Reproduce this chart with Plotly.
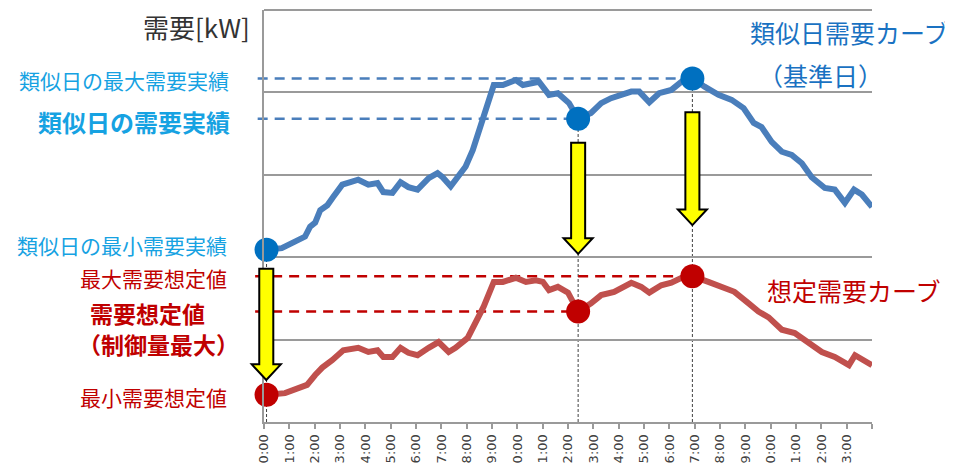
import plotly.graph_objects as go

# ---- data (hours, kW-like units; gridlines every 100) ----
blue_hours = [0, 0.1, 0.70, 0.95, 1.35, 1.62, 1.82, 2.02, 2.22, 2.50,
              2.73, 3.09, 3.41, 3.72, 4.12, 4.48, 4.71, 5.07, 5.39, 5.70,
              6.06, 6.26, 6.50, 6.85, 7.05, 7.37, 7.64, 7.96, 8.24, 8.63,
              9.07, 9.43, 9.94, 10.22, 10.61, 10.85, 11.25, 11.60, 12.04, 12.32,
              12.40, 12.91, 13.31, 13.70, 14.10, 14.50, 14.81, 15.21, 15.60, 16.08,
              16.48, 16.91, 17.39, 17.94, 18.46, 18.93, 19.33, 19.64, 20.04, 20.44,
              20.83, 21.23, 21.62, 22.14, 22.53, 22.93, 23.29, 23.60, 24.00]
blue_kw = [215, 209, 211, 215, 221, 225, 237, 242, 257, 263,
           273, 288, 291, 294, 288, 290, 279, 278, 291, 285,
           282, 288, 296, 302, 297, 286, 296, 310, 330, 367,
           409, 409, 415, 409, 411, 413, 397, 399, 387, 373,
           368, 375, 387, 393, 397, 401, 401, 388, 399, 403,
           413, 417, 407, 397, 391, 381, 363, 358, 340, 328,
           324, 314, 297, 284, 282, 266, 282, 276, 261]

red_hours = [0, 0.1, 0.83, 1.35, 1.70, 2.02, 2.30, 2.69, 3.13, 3.72,
             4.12, 4.48, 4.71, 5.07, 5.39, 5.70, 6.06, 6.50, 6.89, 7.29,
             7.56, 8.04, 8.36, 8.67, 9.07, 9.43, 9.94, 10.34, 10.73, 11.01,
             11.25, 11.60, 12.00, 12.20, 12.40, 12.91, 13.31, 13.82, 14.50, 14.89,
             15.21, 15.68, 16.08, 16.48, 16.91, 17.54, 18.06, 18.57, 19.13, 19.52,
             19.92, 20.44, 20.95, 21.50, 22.02, 22.53, 23.09, 23.33, 23.72, 24.00]
red_kw = [38, 33, 35, 41, 45, 57, 66, 75, 87, 90,
          85, 87, 79, 79, 90, 84, 81, 90, 97, 85,
          90, 102, 120, 140, 170, 170, 175, 170, 172, 170,
          160, 164, 157, 144, 134, 144, 154, 158, 169, 164,
          157, 166, 169, 175, 177, 170, 164, 158, 144, 134,
          127, 112, 108, 97, 85, 79, 69, 81, 75, 69]

key_hours = [0.1, 12.40, 16.91]          # min / selected / max of similar day
arrow_tops = [186, 339, 376]
arrow_tips = [51, 204, 239]

tick_hours = list(range(25))
tick_labels = ["0:00", "1:00", "2:00", "3:00", "4:00", "5:00", "6:00", "7:00", "8:00", "9:00",
               "0:00", "1:00", "2:00", "3:00", "4:00", "5:00", "6:00", "7:00", "8:00", "9:00",
               "0:00", "1:00", "2:00", "3:00", ""]

X_MAX = 24
Y_MAX = 500

blue_key = [blue_kw[blue_hours.index(h)] for h in key_hours]
red_key = [red_kw[red_hours.index(h)] for h in key_hours]

BLUE_LINE = "#4a7ebb"
RED_LINE = "#c0504d"
BLUE_DOT = "#0070c0"
RED_DOT = "#c00000"
LIGHT_BLUE = "#16a2e2"
CURVE_BLUE = "#1a72c2"
DARK_RED = "#c00000"
GRID = "#9a9a9a"
FONT = "Noto Sans CJK JP"

def xp(h):
    return h / X_MAX

def yp(v):
    return v / Y_MAX

fig = go.Figure()
fig.add_trace(go.Scatter(x=blue_hours, y=blue_kw, mode="lines",
                         line=dict(color=BLUE_LINE, width=6), hoverinfo="skip"))
fig.add_trace(go.Scatter(x=red_hours, y=red_kw, mode="lines",
                         line=dict(color=RED_LINE, width=6), hoverinfo="skip"))
fig.add_trace(go.Scatter(x=key_hours, y=blue_key, mode="markers", cliponaxis=False,
                         marker=dict(color=BLUE_DOT, size=24), hoverinfo="skip"))
fig.add_trace(go.Scatter(x=key_hours, y=red_key, mode="markers", cliponaxis=False,
                         marker=dict(color=RED_DOT, size=24), hoverinfo="skip"))

shapes = []
# vertical thin dashed lines
for h, b in zip(key_hours, blue_key):
    shapes.append(dict(type="line", xref="paper", yref="paper", layer="below",
                       x0=xp(h), x1=xp(h), y0=0, y1=yp(b),
                       line=dict(color="#404040", width=1, dash="3px,2px")))
# horizontal dashed reference lines (selected and max)
for h, b in zip(key_hours[1:], blue_key[1:]):
    shapes.append(dict(type="line", xref="paper", yref="paper", layer="below",
                       x0=xp(-0.25), x1=xp(h), y0=yp(b), y1=yp(b),
                       line=dict(color=BLUE_LINE, width=2.5, dash="10px,7px")))
for h, r in zip(key_hours[1:], red_key[1:]):
    shapes.append(dict(type="line", xref="paper", yref="paper", layer="below",
                       x0=xp(-0.35), x1=xp(h), y0=yp(r), y1=yp(r),
                       line=dict(color=DARK_RED, width=2.5, dash="10px,7px")))
# top frame line
shapes.append(dict(type="line", xref="paper", yref="paper", layer="below",
                   x0=0, x1=1, y0=1, y1=1, line=dict(color=GRID, width=2)))

# yellow block arrows
SHAFT = 0.277
HEAD = 0.574
HEAD_LEN = 19
for h, top, tip in zip(key_hours, arrow_tops, arrow_tips):
    hx = h - 0.01 if h < 1 else h
    pts = [(hx - SHAFT, top), (hx + SHAFT, top), (hx + SHAFT, tip + HEAD_LEN),
           (hx + HEAD, tip + HEAD_LEN), (hx, tip), (hx - HEAD, tip + HEAD_LEN),
           (hx - SHAFT, tip + HEAD_LEN)]
    path = "M " + " L ".join(f"{xp(a):.5f},{yp(b):.5f}" for a, b in pts) + " Z"
    shapes.append(dict(type="path", xref="paper", yref="paper", layer="above", path=path,
                       fillcolor="#ffff00", line=dict(color="#000000", width=2)))

# page has an 8px body margin: shift figure geometry accordingly
OFF = 8
L, T, W, H = 264 - OFF, 10 - OFF, 608, 412
def px(x):
    return (x - OFF - L) / W
def py(y):
    return (T + H - (y - OFF)) / H

ann = []
def add(text, x, y, size, color, xanchor="right", bold=False):
    ann.append(dict(text=f"<b>{text}</b>" if bold else text, x=px(x), y=py(y),
                    xref="paper", yref="paper", xanchor=xanchor, yanchor="middle",
                    showarrow=False, font=dict(family=FONT, size=size, color=color)))

add("需要[kW]", 252, 27, 26, "#333333")
add("類似日の最大需要実績", 231, 80, 21, LIGHT_BLUE)
add("類似日の需要実績", 232, 121, 24, LIGHT_BLUE, bold=True)
add("類似日の最小需要実績", 229, 245, 21, LIGHT_BLUE)
add("最大需要想定値", 229, 278, 21, DARK_RED)
add("需要想定値", 88, 313, 23, DARK_RED, xanchor="left", bold=True)
add("（制御量最大）", 76, 344, 23, DARK_RED, xanchor="left", bold=True)
add("最小需要想定値", 229, 397, 21, DARK_RED)
add("類似日需要カーブ", 748, 32, 25, CURVE_BLUE, xanchor="left")
add("（基準日）", 820, 75, 25, CURVE_BLUE, xanchor="center")
add("想定需要カーブ", 765, 290, 25, DARK_RED, xanchor="left")

fig.update_layout(
    width=953, height=465,
    margin=dict(l=L, r=953 - L - W, t=T, b=465 - T - H),
    paper_bgcolor="white", plot_bgcolor="white",
    showlegend=False,
    shapes=shapes, annotations=ann,
    xaxis=dict(range=[0, X_MAX], tickmode="array", tickvals=tick_hours, ticktext=tick_labels,
               tickangle=-90, ticks="outside", ticklen=5, tickwidth=1.5, tickcolor=GRID,
               showline=True, linecolor=GRID, linewidth=2, showgrid=False, zeroline=False,
               tickfont=dict(family="DejaVu Sans", size=13, color="#404040")),
    yaxis=dict(range=[0, Y_MAX], dtick=100, showticklabels=False, ticks="",
               showline=True, linecolor=GRID, linewidth=2,
               showgrid=True, gridcolor=GRID, gridwidth=2, zeroline=False),
)

fig.write_html("out.html")
